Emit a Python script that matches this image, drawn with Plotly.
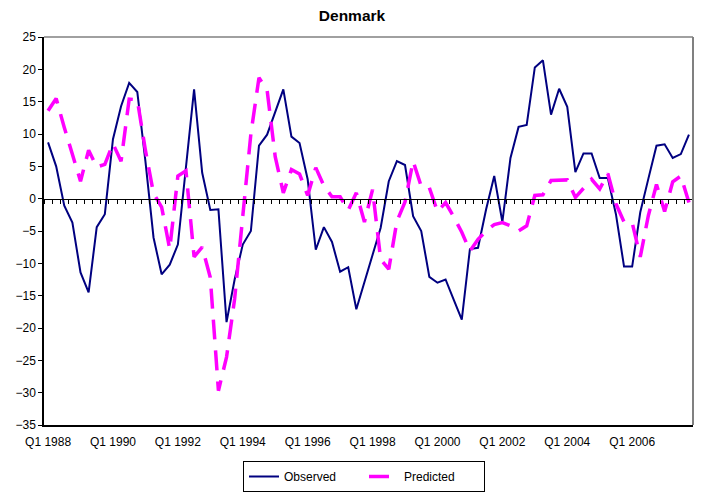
import plotly.graph_objects as go

years = list(range(1988, 2008))
quarters = [f"Q{q} {y}" for y in years for q in range(1, 5)]

tick_labels = ["Q1 1988", "Q1 1990", "Q1 1992", "Q1 1994", "Q1 1996",
               "Q1 1998", "Q1 2000", "Q1 2002", "Q1 2004", "Q1 2006"]

observed = [8.7, 5.0, -1.1, -3.7, -11.4, -14.5, -4.4, -2.4,
            9.2, 14.3, 17.9, 16.5, 5.8, -6.0, -11.7, -10.2,
            -7.1, 5.0, 16.9, 4.0, -1.75, -1.65, -19.1, -12.5,
            -7.1, -5.0, 8.2, 9.9, 13.3, 16.9, 9.6, 8.6,
            3.0, -7.9, -4.4, -6.7, -11.3, -10.6, -17.1, -13.0,
            -8.9, -4.5, 2.7, 5.8, 5.2, -2.7, -5.0, -12.1,
            -13.0, -12.5, -15.6, -18.7, -7.8, -7.6, -1.65, 3.5,
            -3.6, 6.3, 11.1, 11.4, 20.3, 21.4, 13.0, 17.0,
            14.2, 4.1, 7.0, 7.0, 3.2, 3.2, -2.4, -10.5,
            -10.5, -2.1, 3.1, 8.2, 8.4, 6.3, 6.9, 9.9]

predicted = [13.6, 15.5, 11.0, 7.0, 2.7, 7.5, 4.9, 5.3,
             8.5, 5.8, 15.4, 15.3, 7.5, 0.8, -1.3, -7.8,
             3.5, 4.3, -9.0, -7.5, -12.2, -29.7, -24.5, -15.5,
             -2.8, 10.0, 18.7, 16.8, 6.5, 0.9, 4.5, 3.8,
             0.5, 4.8, 2.0, 0.3, 0.3, -1.8, 0.9, -3.6,
             1.4, -9.4, -10.9, -3.5, -0.5, 5.8, 1.9, 1.7,
             -2.0, -0.6, -2.8, -5.2, -8.1, -6.3, -5.0, -4.0,
             -3.7, -4.2, -5.0, -4.2, 0.5, 0.6, 2.8, 2.9,
             2.9, 0.2, 1.6, 3.0, 1.5, 3.9, -0.8, -3.6,
             -3.7, -9.0, -2.6, 2.2, -2.0, 2.6, 3.5, -0.6]

FONT = "Arial, Liberation Sans, sans-serif"

fig = go.Figure()
fig.add_trace(go.Scatter(
    x=quarters, y=observed, name="Observed", mode="lines",
    line=dict(color="#000080", width=2)))
fig.add_trace(go.Scatter(
    x=quarters, y=predicted, name="Predicted", mode="lines",
    line=dict(color="#FF00FF", width=3.5, dash="20px,11px")))
# helper trace so that the zero-crossing category axis is drawn
fig.add_trace(go.Scatter(
    x=quarters, y=observed, xaxis="x2", mode="lines",
    line=dict(width=0, color="rgba(0,0,0,0)"), opacity=0,
    showlegend=False, hoverinfo="skip"))

ymin, ymax = -35, 25

fig.update_layout(
    width=711, height=493,
    margin=dict(l=44, r=18, t=37, b=68, autoexpand=False),
    paper_bgcolor="white", plot_bgcolor="white",
    font=dict(family=FONT, size=12, color="black"),
    title=dict(text="<b>Denmark</b>", x=352 / 711,
               xanchor="center", xref="container",
               y=1 - 16 / 493, yanchor="middle",
               font=dict(family=FONT, size=15.5, color="black")),
    xaxis=dict(type="category", categoryorder="array", categoryarray=quarters,
               range=[-0.5, len(quarters) - 0.5],
               tickmode="array", tickvals=tick_labels, ticktext=tick_labels,
               ticks="outside", ticklen=5, tickcolor="rgba(0,0,0,0)",
               showline=True, linecolor="black", linewidth=1.5,
               showgrid=False, zeroline=False,
               tickfont=dict(family=FONT, size=12)),
    xaxis2=dict(type="category", categoryorder="array", categoryarray=quarters,
                range=[-0.5, len(quarters) - 0.5],
                overlaying="x", anchor="free",
                position=(0 - ymin) / (ymax - ymin),
                tickmode="linear", tick0=0, dtick=1, tickson="boundaries",
                ticks="outside", ticklen=4, tickwidth=1, tickcolor="black",
                showticklabels=False, showline=True, linecolor="black",
                linewidth=1, showgrid=False, zeroline=False),
    yaxis=dict(range=[ymin, ymax], dtick=5, tick0=0,
               ticks="outside", ticklen=4, tickcolor="black",
               showline=True, linecolor="black", linewidth=1.5,
               showgrid=False, zeroline=False,
               tickfont=dict(family=FONT, size=12)),
    legend=dict(orientation="h", x=(243 - 44) / 649, xanchor="left",
                y=(425 - 461) / 388, yanchor="top",
                bordercolor="black", borderwidth=1,
                entrywidth=75, entrywidthmode="pixels",
                font=dict(family=FONT, size=12),
                tracegroupgap=0),
    showlegend=True,
    shapes=[
        dict(type="line", xref="paper", yref="paper", x0=0, x1=1, y0=1, y1=1,
             line=dict(color="#808080", width=1.5)),
        dict(type="line", xref="paper", yref="paper", x0=1, x1=1, y0=0, y1=1,
             line=dict(color="#808080", width=2)),
    ],
)

fig.write_html(
    "out.html",
    config={"displayModeBar": False},
    post_script="document.body.style.margin='0';"
                "document.body.style.overflow='hidden';",
)
